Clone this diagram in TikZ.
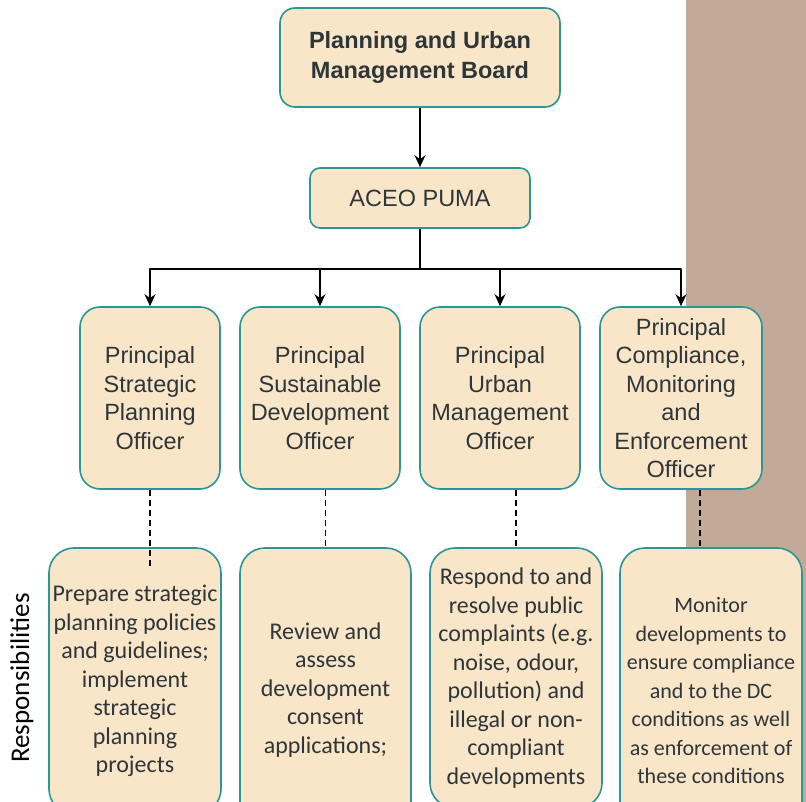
\documentclass[tikz,border=0pt]{standalone}
\usepackage{fontspec}
\setmainfont{Liberation Sans}
\newfontfamily\calibri{Carlito}
\usetikzlibrary{arrows.meta}
\definecolor{boxfill}{RGB}{249,229,199}
\definecolor{boxline}{RGB}{42,150,150}
\definecolor{band}{RGB}{193,170,151}
\definecolor{txt}{RGB}{45,55,58}
\begin{document}
\begin{tikzpicture}[x=1pt,y=-1pt, line join=round, >={Stealth[length=12pt,width=11pt]},
	box/.style={draw=boxline, line width=1.6pt, fill=boxfill, align=center, text=txt, inner sep=0pt},
	head/.style={box, rounded corners=15pt, font=\bfseries\fontsize{23.5}{30}\selectfont},
	officer/.style={box, rounded corners=20pt, minimum height=182pt, font=\fontsize{23.5}{28.5}\selectfont},
	duty/.style={box, rounded corners=25pt, font=\calibri\fontsize{24}{28.5}\selectfont},
	link/.style={line width=1.6pt},
	dashlink/.style={line width=1.6pt, dash pattern=on 6pt off 4pt}] %Sơ đồ tổ chức
	\useasboundingbox (0,0) rectangle (806,802);
	\fill[band] (686,0) rectangle (806,802);
	% cấp trên
	\node[head, minimum width=280pt, minimum height=99pt] (board) at (420,57.5) {Planning and Urban\\Management Board};
	\node[box, rounded corners=10pt, minimum width=220pt, minimum height=60pt, font=\fontsize{23.5}{28}\selectfont] (aceo) at (420,198) {ACEO PUMA};
	\draw[link, ->] (board) -- (aceo);
	% các trưởng phòng
	\node[officer, minimum width=140pt] (o1) at (150,398) {Principal\\Strategic\\Planning\\Officer};
	\node[officer, minimum width=160pt] (o2) at (320,398) {Principal\\Sustainable\\Development\\Officer};
	\node[officer, minimum width=160pt] (o3) at (500,398) {Principal\\Urban\\Management\\Officer};
	\node[officer, minimum width=162pt] (o4) at (681,398) {Principal\\Compliance,\\Monitoring\\and\\Enforcement\\Officer};
	\draw[link] (aceo.south) -- ++(0,40) coordinate (split);
	\foreach \n in {o1,o2,o3,o4}
		\draw[link, ->] (split) -| (\n.north);
	% nhiệm vụ
	\node[duty, minimum width=172pt, minimum height=266pt] (r1) at (135,681) {Prepare strategic\\planning policies\\and guidelines;\\implement\\strategic\\planning\\projects};
	\node[duty, minimum width=171pt, minimum height=284pt] (r2) at (325.5,690) {Review and\\assess\\development\\consent\\applications;};
	\node[duty, minimum width=172pt, minimum height=260pt] (r3) at (516,678) {Respond to and\\resolve public\\complaints (e.g.\\noise, odour,\\pollution) and\\illegal or non-\\compliant\\developments};
	\node[duty, minimum width=182pt, minimum height=286pt, font=\calibri\fontsize{22}{28.5}\selectfont] (r4) at (711,691) {Monitor\\developments to\\ensure compliance\\and to the DC\\conditions as well\\as enforcement of\\these conditions};
	\path ([xshift=-11pt]r4.north) coordinate (d4);
	\draw[dashlink] (o1.south) -- ([yshift=-20pt]o1.south |- r1.north);
	\draw[dashlink] (o2.south -| r2.north) -- (r2.north);
	\draw[dashlink] (o3.south -| r3.north) -- (r3.north);
	\draw[dashlink] (o4.south -| d4) -- (d4);
	\node[rotate=90, font=\calibri\fontsize{27}{30}\selectfont] (resp) at (22,678) {Responsibilities};
\end{tikzpicture}
\end{document}
